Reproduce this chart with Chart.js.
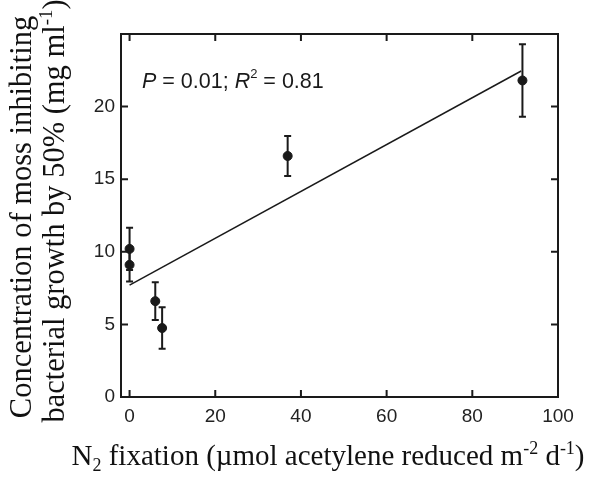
<!DOCTYPE html>
<html>
<head>
<meta charset="utf-8">
<script src="https://cdn.jsdelivr.net/npm/chart.js@4.4.1/dist/chart.umd.min.js"></script>
<style>
  html, body { margin: 0; padding: 0; background: #fff; }
  #wrap { width: 590px; height: 478px; }
</style>
</head>
<body>
<div id="wrap"><canvas id="chart" width="590" height="478"></canvas></div>
<script>
// data
const fixation = [0, 0, 6, 7.6, 36.9, 91.7]
const concentration = [10.2, 9.1, 6.6, 4.75, 16.6, 21.8]
const errors = [1.45, 1.15, 1.3, 1.43, 1.38, 2.5]

const fitX = [0, 91.4]
const fitY = [7.7, 22.45]

const xTicks = [0, 20, 40, 60, 80, 100]
const yTicks = [0, 5, 10, 15, 20]

const ink = '#1a1a1a'
const serif = '"Liberation Serif", "Times New Roman", serif'
const sans = '"Liberation Sans", Arial, sans-serif'

// draws text made of pieces, some raised or lowered
function richText(ctx, parts, x, y, size, family) {
    let widths = parts.map(p => {
        let s = p.sub || p.sup ? size * 0.62 : size
        ctx.font = (p.italic ? 'italic ' : '') + s + 'px ' + family
        return ctx.measureText(p.t).width
    })
    let total = widths.reduce((a, b) => a + b, 0)
    let cx = x - total / 2
    ctx.textAlign = 'left'
    ctx.textBaseline = 'alphabetic'
    parts.forEach((p, i) => {
        let s = p.sub || p.sup ? size * 0.62 : size
        ctx.font = (p.italic ? 'italic ' : '') + s + 'px ' + family
        let dy = p.sub ? size * 0.22 : p.sup ? -size * 0.38 : 0
        ctx.fillText(p.t, cx, y + dy)
        cx += widths[i]
    })
}

const decorations = {
    id: 'decorations',
    afterDatasetsDraw(chart) {
        const ctx = chart.ctx
        const xs = chart.scales.x
        const ys = chart.scales.y
        const a = chart.chartArea
        ctx.save()
        ctx.strokeStyle = ink
        ctx.lineWidth = 2
        // error bars
        for (let i = 0; i < fixation.length; i++) {
            let px = xs.getPixelForValue(fixation[i])
            let top = ys.getPixelForValue(concentration[i] + errors[i])
            let bot = ys.getPixelForValue(concentration[i] - errors[i])
            ctx.beginPath()
            ctx.moveTo(px, top); ctx.lineTo(px, bot)
            ctx.moveTo(px - 3.5, top); ctx.lineTo(px + 3.5, top)
            ctx.moveTo(px - 3.5, bot); ctx.lineTo(px + 3.5, bot)
            ctx.stroke()
        }
        // frame
        ctx.strokeRect(a.left, a.top, a.right - a.left, a.bottom - a.top)
        // inward ticks on all sides
        ctx.beginPath()
        xTicks.forEach(v => {
            let px = xs.getPixelForValue(v)
            ctx.moveTo(px, a.bottom); ctx.lineTo(px, a.bottom - 7)
            ctx.moveTo(px, a.top); ctx.lineTo(px, a.top + 7)
        })
        yTicks.forEach(v => {
            let py = ys.getPixelForValue(v)
            ctx.moveTo(a.left, py); ctx.lineTo(a.left + 7, py)
            ctx.moveTo(a.right, py); ctx.lineTo(a.right - 7, py)
        })
        ctx.stroke()

        // statistics note
        ctx.fillStyle = ink
        let nx = xs.getPixelForValue(2.9)
        let ny = ys.getPixelForValue(21.3)
        ctx.textAlign = 'left'
        ctx.textBaseline = 'alphabetic'
        let bits = [
            { t: 'P', italic: true }, { t: ' = 0.01; ' }, { t: 'R', italic: true },
            { t: '2', sup: true }, { t: ' = 0.81' }
        ]
        let cx = nx
        bits.forEach(b => {
            let s = b.sup ? 13 : 21.5
            ctx.font = (b.italic ? 'italic ' : '') + s + 'px ' + sans
            ctx.fillText(b.t, cx, b.sup ? ny - 10 : ny)
            cx += ctx.measureText(b.t).width
        })

        // axis titles
        ctx.fillStyle = '#111'
        richText(ctx, [
            { t: 'N' }, { t: '2', sub: true },
            { t: ' fixation (\u00b5mol acetylene reduced m' }, { t: '-2', sup: true },
            { t: ' d' }, { t: '-1', sup: true }, { t: ')' }
        ], 328, 465, 29, serif)

        ctx.save()
        ctx.rotate(-Math.PI / 2)
        richText(ctx, [{ t: 'Concentration of moss inhibiting' }], -217, 31, 30.5, serif)
        richText(ctx, [
            { t: 'bacterial growth by 50% (mg ml' }, { t: '-1', sup: true }, { t: ')' }
        ], -211, 64, 30.5, serif)
        ctx.restore()
        ctx.restore()
    }
}

new Chart(document.getElementById('chart'), {
    type: 'scatter',
    data: {
        datasets: [
            {
                label: 'samples',
                data: fixation.map((x, i) => ({ x: x, y: concentration[i] })),
                backgroundColor: ink,
                borderColor: ink,
                pointRadius: 4.5,
                pointHoverRadius: 4.5
            },
            {
                label: 'fit',
                type: 'line',
                data: fitX.map((x, i) => ({ x: x, y: fitY[i] })),
                borderColor: ink,
                borderWidth: 1.5,
                pointRadius: 0,
                fill: false
            }
        ]
    },
    options: {
        responsive: false,
        animation: false,
        events: [],
        layout: { padding: { left: 0, right: 32, top: 34, bottom: 0 } },
        plugins: { legend: { display: false }, tooltip: { enabled: false } },
        scales: {
            x: {
                type: 'linear',
                min: -2,
                max: 100,
                afterBuildTicks: s => { s.ticks = xTicks.map(v => ({ value: v })) },
                afterFit: s => { s.height = 81 },
                grid: { display: false, drawTicks: false },
                border: { display: false },
                ticks: { color: '#222', padding: 8, font: { family: sans, size: 19 } }
            },
            y: {
                type: 'linear',
                min: 0,
                max: 25,
                afterBuildTicks: s => { s.ticks = yTicks.map(v => ({ value: v })) },
                afterFit: s => { s.width = 121 },
                grid: { display: false, drawTicks: false },
                border: { display: false },
                ticks: { color: '#222', padding: 6, font: { family: sans, size: 19 } }
            }
        }
    },
    plugins: [decorations]
})
</script>
</body>
</html>
